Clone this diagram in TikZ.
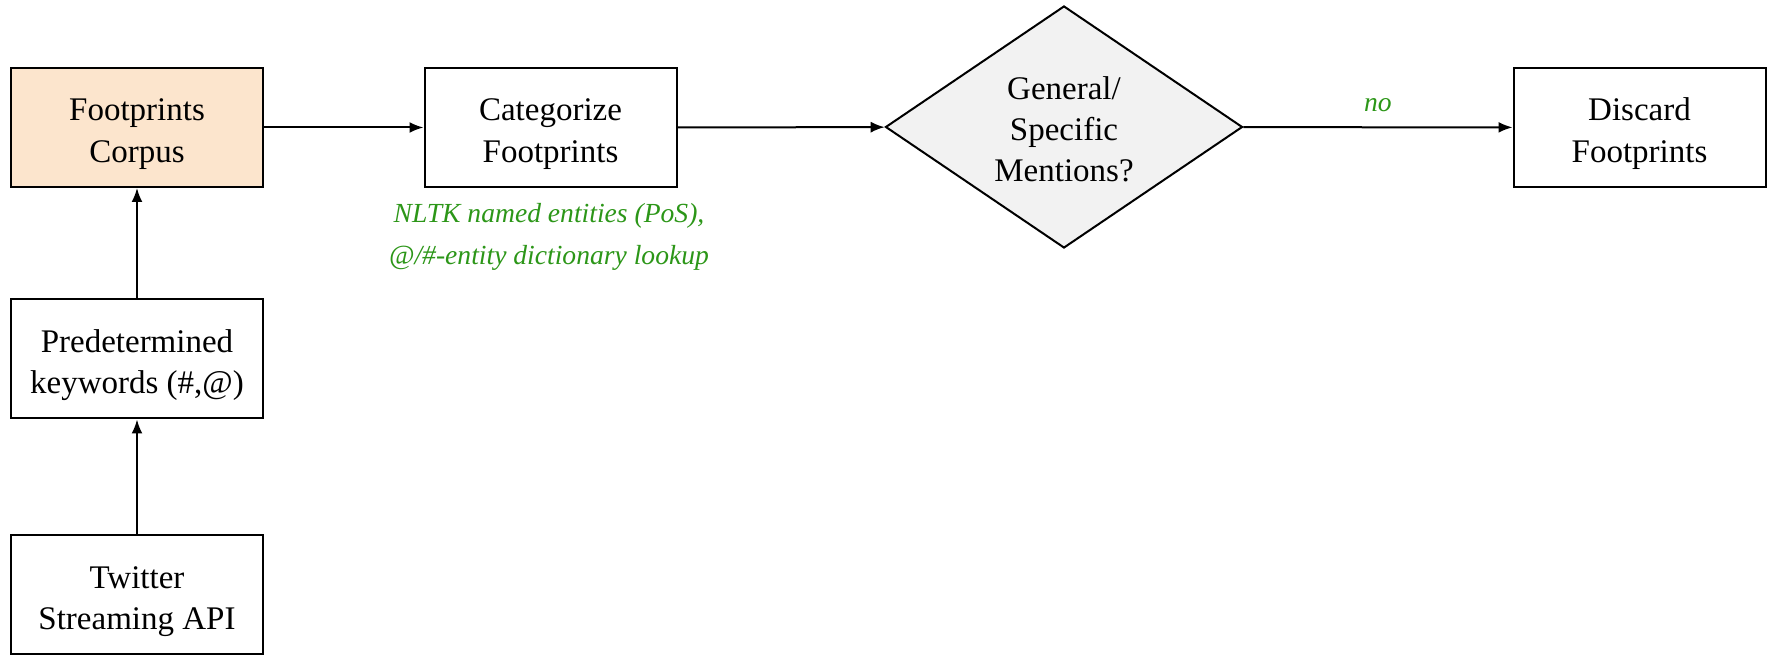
\documentclass[tikz,border=0pt]{standalone}
\usepackage{fontspec}
\setmainfont{Liberation Serif}
\usetikzlibrary{shapes.geometric,arrows.meta}
\definecolor{corpusfill}{RGB}{252,229,205}
\definecolor{decisionfill}{RGB}{242,242,242}
\definecolor{notegreen}{RGB}{44,150,24}
% extra room above the first line pushes the text block slightly down
\newcommand{\boxtop}{\rule{0pt}{17.5pt}}
\newcommand{\diamondtop}{\rule{0pt}{14pt}}
\begin{document}
\begin{tikzpicture}[x=1pt,y=1pt,
  stepbox/.style={draw,line width=1pt,minimum width=126pt,minimum height=59.5pt,
    inner sep=0pt,align=center,font=\fontsize{16.5}{20.6}\selectfont},
  decision/.style={draw,diamond,aspect=1.475,line width=1pt,fill=decisionfill,minimum width=178.5pt,
    minimum height=121pt,inner sep=0pt,align=center,font=\fontsize{16.5}{20.6}\selectfont},
  note/.style={text=notegreen,font=\fontsize{13.8}{21}\selectfont\itshape,align=center},
  flow/.style={line width=1pt,-{Latex[length=7pt,width=5.5pt]}}]
\useasboundingbox (0,0) rectangle (884.5,-328);
\node[stepbox,fill=corpusfill] (corpus) at (68.5,-63.75) {\boxtop Footprints\\Corpus};
\node[stepbox] (categorize) at (275.25,-63.75) {\boxtop Categorize\\Footprints};
\node[decision] (mentions) at (532,-63.5) {\diamondtop General/\\Specific\\Mentions?};
\node[stepbox] (discard) at (819.75,-63.75) {\boxtop Discard\\Footprints};
\node[stepbox] (keywords) at (68.5,-179.5) {\boxtop Predetermined\\keywords (\#,@)};
\node[stepbox] (twitter) at (68.5,-297.5) {\boxtop Twitter\\Streaming API};
\node[note] (entities) at (274.5,-118.7) {NLTK named entities (PoS),\\@/\#-entity dictionary lookup};
\draw[flow] (twitter) -- (keywords);
\draw[flow] (keywords) -- (corpus);
\draw[flow] (corpus) -- (categorize);
\draw[flow] (categorize) -- (mentions);
\draw[flow] (mentions) -- node[note,above=4pt] (no) {no} (discard);
\end{tikzpicture}
\end{document}
